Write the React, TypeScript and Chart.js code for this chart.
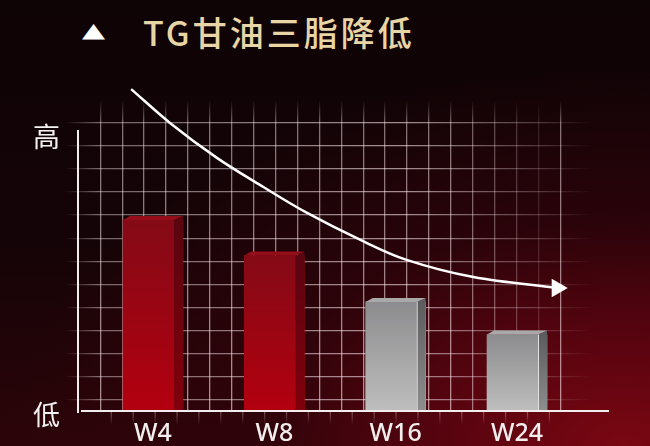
import { useEffect, useRef } from 'react'
import { Chart, registerables } from 'chart.js'

Chart.register(...registerables)

// 数据
const CATEGORIES = ['W4', 'W8', 'W16', 'W24']
const TG_LEVEL = [70, 57, 40, 28]
const BAR_TONE = ['red', 'red', 'gray', 'gray']

// 下降趋势曲线 (x: 周次序号, y: 同一水平刻度)
const TREND_X = [-0.18, 0.14, 0.53, 0.91, 1.27, 1.71, 2.09, 2.64, 3.33]
const TREND_Y = [118, 105.6, 92.7, 82.1, 72.6, 62.7, 55.4, 49.1, 45.1]

const Y_TICKS = [0, 102]
const Y_TICK_LABELS = ['低', '高']

const GRID_COLS = 21
const GRID_ROWS = 13

const TONES: Record<string, { front: [string, string]; side: [string, string]; top: string; edge?: string }> = {
  red: { front: ['#840a16', '#b3000f'], side: ['#5a0510', '#80000c'], top: '#960d1a' },
  gray: { front: ['#8c8c8e', '#bebebe'], side: ['#5c5c5e', '#8e8e8e'], top: '#a9a9a9', edge: '#e2e2e2' },
}

const DEPTH = 9
const TOP_H = 4

const boxPlugin = {
  id: 'box3d',
  beforeDatasetsDraw(chart: any) {
    // 网格竖线在横轴下方的淡出部分
    const { ctx, chartArea, scales } = chart
    const g = ctx.createLinearGradient(0, chartArea.bottom, 0, chartArea.bottom + 14)
    g.addColorStop(0, 'rgba(255,235,240,0.35)')
    g.addColorStop(1, 'rgba(255,235,240,0)')
    ctx.save()
    ctx.strokeStyle = g
    ctx.lineWidth = 1.3
    ctx.beginPath()
    for (let k = 0; k < GRID_COLS; k++) {
      const x = scales.gx.getPixelForValue(k)
      ctx.moveTo(x, chartArea.bottom)
      ctx.lineTo(x, chartArea.bottom + 14)
    }
    ctx.stroke()
    ctx.restore()
  },
  afterDatasetDraw(chart: any, args: any) {
    if (args.index !== 0) return
    const { ctx } = chart
    const meta = chart.getDatasetMeta(0)
    meta.data.forEach((bar: any, i: number) => {
      const tone = TONES[BAR_TONE[i]]
      const left = bar.x - bar.width / 2
      const right = bar.x + bar.width / 2
      const top = bar.y
      const base = bar.base
      ctx.save()
      // 侧面
      const sg = ctx.createLinearGradient(0, top, 0, base)
      sg.addColorStop(0, tone.side[0])
      sg.addColorStop(1, tone.side[1])
      ctx.fillStyle = sg
      ctx.beginPath()
      ctx.moveTo(right - DEPTH, top)
      ctx.lineTo(right, top - TOP_H)
      ctx.lineTo(right, base)
      ctx.lineTo(right - DEPTH, base)
      ctx.closePath()
      ctx.fill()
      // 顶面
      ctx.fillStyle = tone.top
      ctx.beginPath()
      ctx.moveTo(left, top)
      ctx.lineTo(left + DEPTH - 2, top - TOP_H)
      ctx.lineTo(right, top - TOP_H)
      ctx.lineTo(right - DEPTH, top)
      ctx.closePath()
      ctx.fill()
      if (tone.edge) {
        ctx.strokeStyle = tone.edge
        ctx.lineWidth = 1
        ctx.beginPath()
        ctx.moveTo(right - DEPTH + 0.5, top)
        ctx.lineTo(right - DEPTH + 0.5, base)
        ctx.stroke()
      }
      ctx.restore()
    })
  },
  afterDatasetsDraw(chart: any) {
    const { ctx, chartArea, scales } = chart
    const x0 = chartArea.left + 13
    const y0 = scales.y.getPixelForValue(0)
    const yTop = scales.y.getPixelForValue(103)
    ctx.save()
    ctx.strokeStyle = '#f3eeee'
    ctx.lineWidth = 2
    ctx.beginPath()
    ctx.moveTo(x0, yTop)
    ctx.lineTo(x0, y0 + 2)
    ctx.moveTo(x0 + 3, y0)
    ctx.lineTo(chartArea.right, y0)
    ctx.stroke()
    ctx.restore()
  },
}

function vGridColor(ctx: any) {
  const chart = ctx.chart
  const area = chart.chartArea
  if (!area) return 'rgba(255,235,240,0.5)'
  const k = ctx.tick ? ctx.tick.value : 0
  const a = k <= 16 ? 0.6 : 0.6 * (1 - (k - 16) * 0.18)
  const g = chart.ctx.createLinearGradient(0, area.top, 0, area.bottom)
  g.addColorStop(0, 'rgba(255,235,240,0)')
  g.addColorStop(0.08, `rgba(255,235,240,${a * 0.8})`)
  g.addColorStop(1, `rgba(255,235,240,${a})`)
  return g
}

function hGridColor(ctx: any) {
  const chart = ctx.chart
  const area = chart.chartArea
  if (!area) return 'rgba(255,235,240,0.5)'
  const a = 0.6
  const g = chart.ctx.createLinearGradient(area.left, 0, area.right, 0)
  g.addColorStop(0, 'rgba(255,235,240,0)')
  g.addColorStop(0.06, `rgba(255,235,240,${a * 0.7})`)
  g.addColorStop(0.62, `rgba(255,235,240,${a})`)
  g.addColorStop(0.88, `rgba(255,235,240,${a * 0.35})`)
  g.addColorStop(0.97, 'rgba(255,235,240,0)')
  return g
}

export default function App() {
  const canvasRef = useRef<HTMLCanvasElement>(null)

  useEffect(() => {
    if (!canvasRef.current) return
    const last = TREND_X.length - 1
    const chart = new Chart(canvasRef.current, {
      type: 'bar',
      data: {
        datasets: [
          {
            type: 'bar',
            data: TG_LEVEL.map((v, i) => ({ x: i, y: v })),
            barThickness: 60,
            borderWidth: 0,
            order: 2,
            backgroundColor: (ctx: any) => {
              const chart = ctx.chart
              if (!chart.chartArea) return '#900'
              const tone = TONES[BAR_TONE[ctx.dataIndex]]
              const y = chart.scales.y
              const g = chart.ctx.createLinearGradient(0, y.getPixelForValue(TG_LEVEL[ctx.dataIndex]), 0, y.getPixelForValue(0))
              g.addColorStop(0, tone.front[0])
              g.addColorStop(1, tone.front[1])
              return g
            },
          },
          {
            type: 'line',
            data: TREND_X.map((x, i) => ({ x, y: TREND_Y[i] })),
            borderColor: '#ffffff',
            borderWidth: 2.5,
            tension: 0.35,
            clip: false,
            order: 1,
            pointStyle: 'triangle',
            pointRotation: 90,
            pointRadius: (ctx: any) => (ctx.dataIndex === last ? 10.7 : 0),
            pointBackgroundColor: '#ffffff',
            pointBorderWidth: 0,
          } as any,
        ],
      },
      options: {
        responsive: true,
        maintainAspectRatio: false,
        animation: false,
        layout: { autoPadding: false, padding: { top: 100, right: 41, left: 0, bottom: 0 } },
        plugins: { legend: { display: false }, tooltip: { enabled: false }, title: { display: false } },
        scales: {
          x: {
            type: 'linear',
            offset: false,
            min: -0.725,
            max: 3.758,
            afterBuildTicks: (s: any) => { s.ticks = CATEGORIES.map((_, i) => ({ value: i })) },
            afterFit: (s: any) => { s.height = 35 },
            grid: { display: false, offset: false, drawTicks: false },
            border: { display: false },
            ticks: {
              callback: (v: any) => CATEGORIES[v] ?? '',
              autoSkip: false,
              maxRotation: 0,
              padding: 8,
              color: '#f3eeee',
              font: { family: '"Noto Sans", sans-serif', size: 25, weight: '500' },
            },
          },
          y: {
            min: 0,
            max: 114,
            afterBuildTicks: (s: any) => { s.ticks = Y_TICKS.map(v => ({ value: v })) },
            afterFit: (s: any) => { s.width = 65 },
            grid: { display: false, drawTicks: false },
            border: { display: false },
            ticks: {
              callback: (v: any) => Y_TICK_LABELS[Y_TICKS.indexOf(v)] ?? '',
              padding: 5,
              labelOffset: 4,
              color: '#f3f3f3',
              font: { family: '"Noto Sans CJK SC", sans-serif', size: 27 },
            },
          },
          gx: {
            type: 'linear',
            position: 'top',
            min: -1.522,
            max: 22.13,
            afterBuildTicks: (s: any) => { s.ticks = Array.from({ length: GRID_COLS }, (_, k) => ({ value: k })) },
            afterFit: (s: any) => { s.height = 0 },
            ticks: { display: false },
            border: { display: false },
            grid: { color: vGridColor, lineWidth: 1.3, drawTicks: false },
          },
          gy: {
            type: 'linear',
            position: 'right',
            reverse: true,
            min: -0.983,
            max: 12.48,
            afterBuildTicks: (s: any) => { s.ticks = Array.from({ length: GRID_ROWS }, (_, k) => ({ value: k })) },
            afterFit: (s: any) => { s.width = 0 },
            ticks: { display: false },
            border: { display: false },
            grid: { color: hGridColor, lineWidth: 1.3, drawTicks: false },
          },
        },
      } as any,
      plugins: [boxPlugin],
    })
    return () => { chart.destroy() }
  }, [])

  return (
    <div
      style={{
        position: 'fixed',
        left: 0,
        top: 0,
        width: 650,
        height: 446,
        overflow: 'hidden',
        background:
          'radial-gradient(ellipse 95% 85% at 96% 100%, #7a0712 0%, #56040f 30%, rgba(48,3,10,0.75) 60%, rgba(20,4,6,0) 100%), linear-gradient(180deg, #0e0305 0%, #150407 55%, #2c0409 100%)',
      }}
    >
      <span
        style={{
          position: 'absolute',
          left: 82,
          top: 15,
          color: '#ffffff',
          fontFamily: '"DejaVu Sans", sans-serif',
          fontSize: 30,
          lineHeight: '30px',
          transform: 'scaleY(0.68)',
        }}
      >
        ▲
      </span>
      <span
        style={{
          position: 'absolute',
          left: 143,
          top: 15,
          color: '#e8d5a6',
          fontFamily: '"Noto Sans CJK SC", sans-serif',
          fontSize: 34,
          lineHeight: '34px',
          fontWeight: 500,
          letterSpacing: 3,
          whiteSpace: 'nowrap',
        }}
      >
        TG甘油三脂降低
      </span>
      <div style={{ position: 'absolute', left: 0, top: 0, width: 650, height: 446 }}>
        <canvas ref={canvasRef} />
      </div>
    </div>
  )
}
